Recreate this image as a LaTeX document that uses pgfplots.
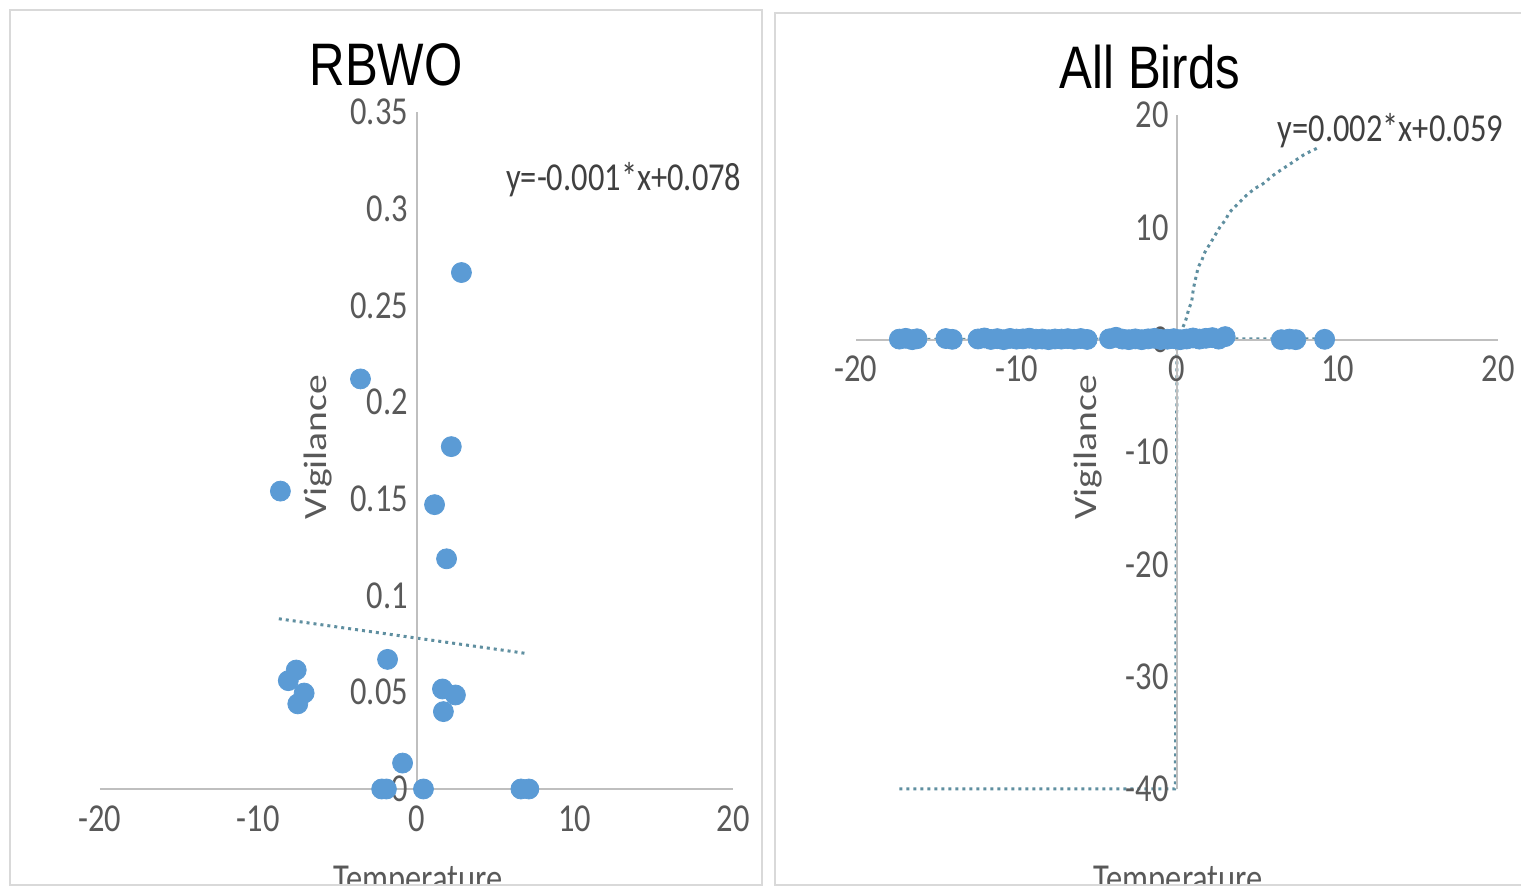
\documentclass[border=0pt]{standalone}
\usepackage{graphicx}
\usepackage{fontspec}
\setmainfont{Carlito}
\newfontfamily\titlefont{Liberation Sans}
\usepackage{pgfplots}
\pgfplotsset{compat=1.18}
\definecolor{dotblue}{HTML}{5B9BD5}
\definecolor{trend}{HTML}{5F8FA0}
\definecolor{axgray}{HTML}{BFBFBF}
\definecolor{tickgray}{HTML}{595959}
\definecolor{framegray}{HTML}{D9D9D9}
\newcommand{\hs}[1]{\scalebox{0.82}[1]{#1}}
\newcommand{\vs}[1]{\scalebox{1}[0.82]{#1}}
\newcommand{\tfont}{\fontsize{19.8pt}{22pt}\selectfont}

\pgfplotstableread{
x y
2.84 0.267
-3.54 0.212
-8.6 0.154
2.2 0.177
1.14 0.147
1.9 0.119
-1.83 0.067
-7.6 0.0615
-8.1 0.056
-7.1 0.0496
-7.5 0.044
1.64 0.0517
2.46 0.0486
1.7 0.040
-0.88 0.0134
-2.2 0
-1.9 0
0.44 0
6.6 0
7.1 0
}\rbwo

\pgfplotstableread{
x y
-17.3 0.05
-16.9 0.12
-16.5 0.00
-16.2 0.08
-14.4 0.10
-14.0 0.03
-12.4 0.06
-12.0 0.15
-11.6 0.02
-11.2 0.09
-10.8 0.00
-10.4 0.11
-10.0 0.05
-9.6 0.07
-9.2 0.13
-8.8 0.04
-8.4 0.06
-8.0 0.00
-7.6 0.06
-7.2 0.05
-6.8 0.09
-6.4 0.03
-6.0 0.10
-5.6 0.02
-4.2 0.08
-3.8 0.21
-3.4 0.05
-3.0 0.00
-2.6 0.07
-2.2 0.00
-1.8 0.07
-1.4 0.12
-1.0 0.01
-0.6 0.04
-0.2 0.09
0.2 0.00
0.6 0.06
1.0 0.15
1.4 0.05
1.8 0.12
2.2 0.18
2.6 0.05
3.0 0.27
6.5 0.00
7.0 0.05
7.4 0.00
9.2 0.03
}\allbirds

\pgfplotstableread{
x y
0 0
0.5 1.54
0.71 2.59
0.92 3.48
1.02 4.52
1.18 5.56
1.33 6.46
1.54 7.05
1.74 7.79
2.06 8.54
2.37 9.29
2.68 10.03
3.0 10.63
3.3 11.37
3.82 12.12
4.34 12.86
4.86 13.46
5.38 13.9
6.0 14.64
6.62 15.24
7.25 15.83
7.87 16.43
8.49 16.88
8.91 17.17
}\curve

\begin{document}
\begin{tikzpicture}
\useasboundingbox (0pt,0pt) rectangle (760.5pt,446pt);
\pgfplotsset{
  myaxis/.style={
    scale only axis,
    axis lines=middle,
    axis on top=true,
    anchor=south west,
    axis line style={draw=axgray, line width=1pt, -},
    major tick length=0pt,
    hide obscured x ticks=false,
    hide obscured y ticks=false,
    tick label style={font=\tfont, text=tickgray},
    xticklabel style={anchor=north, inner sep=0pt, yshift=-8pt},
    yticklabel style={anchor=east, inner sep=0pt, xshift=-4pt},
    label style={font=\tfont, text=tickgray},
    title style={font=\titlefont\fontsize{30pt}{34pt}\selectfont, anchor=center},
    clip=false,
  }
}
\begin{scope}
\clip (0pt,3.5pt) rectangle (760.5pt,446pt);
% Left panel
\begin{axis}[myaxis,
  at={(50pt,51.5pt)}, width=316.5pt, height=338.5pt,
  xmin=-20, xmax=20, ymin=0, ymax=0.35,
  xtick={-20,-10,0,10,20},
  xticklabels={\hs{-20},\hs{-10},\hs{0},\hs{10},\hs{20}},
  ytick={0,0.05,0.1,0.15,0.2,0.25,0.3,0.35},
  yticklabels={\hs{0},\hs{0.05},\hs{0.1},\hs{0.15},\hs{0.2},\hs{0.25},\hs{0.3},\hs{0.35}},
  title={\hs{RBWO}},
  title style={at={(axis description cs:0.452,1.052)}},
  xlabel={\hs{Temperature}},
  xlabel style={at={(axis description cs:0.502,-0.104)}, anchor=north},
  ylabel={\vs{Vigilance}},
  ylabel style={at={(axis description cs:0.344,0.505)}, anchor=center, rotate=90},
]
\addplot[only marks, mark=*, mark size=5pt, color=dotblue] table {\rbwo};
\addplot[trend, line width=1.5pt, dash pattern=on 1.5pt off 2pt] coordinates {(-8.7,0.088) (7.0,0.070)};
\node[font=\tfont, text=black!75, anchor=center] at (axis cs:13.1,0.315) {\hs{y=-0.001*x+0.078}};
\end{axis}
% Right panel
\begin{axis}[myaxis,
  at={(428pt,51.5pt)}, width=321pt, height=337pt,
  xmin=-20, xmax=20, ymin=-40, ymax=20,
  xtick={-20,-10,0,10,20},
  xticklabels={\hs{-20},\hs{-10},\hs{0},\hs{10},\hs{20}},
  ytick={-40,-30,-20,-10,0,10,20},
  yticklabels={\hs{-40},\hs{-30},\hs{-20},\hs{-10},\hs{0},\hs{10},\hs{20}},
  title={\hs{All Birds}},
  title style={at={(axis description cs:0.458,1.054)}},
  xlabel={\hs{Temperature}},
  xlabel style={at={(axis description cs:0.502,-0.104)}, anchor=north},
  ylabel={\vs{Vigilance}},
  ylabel style={at={(axis description cs:0.361,0.507)}, anchor=center, rotate=90},
]
\addplot[trend, line width=1.5pt, dash pattern=on 1.5pt off 2pt] coordinates {(-17.3,0.024) (9.3,0.078)};
\addplot[only marks, mark=*, mark size=5pt, color=dotblue] table {\allbirds};
\addplot[trend, line width=1.5pt, dash pattern=on 1.5pt off 2pt] coordinates {
(-17.3,-40) (-0.15,-40) (-0.1,-39.5) (0,0)};
\addplot[trend, line width=1.5pt, dash pattern=on 1.5pt off 2pt, smooth, tension=0.3] table {\curve};
\node[font=\tfont, text=black!75, anchor=center] at (axis cs:13.3,18.6) {\hs{y=0.002*x+0.059}};
\end{axis}
\end{scope}
\draw[framegray, line width=1pt] (5pt,3.5pt) rectangle (381pt,441pt);
\draw[framegray, line width=1pt] (387.5pt,3.5pt) rectangle (775pt,439.5pt);
\end{tikzpicture}
\end{document}
